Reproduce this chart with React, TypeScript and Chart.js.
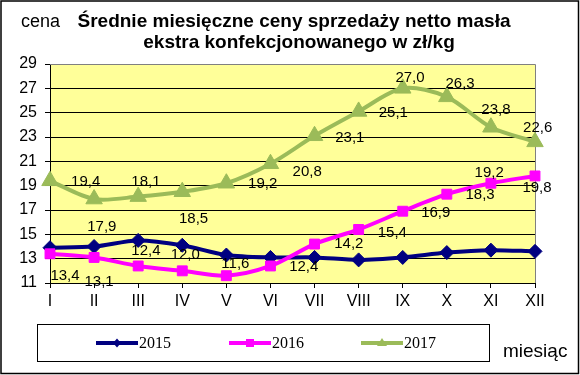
import React, { useEffect, useRef } from "react";
import { Chart, registerables } from "chart.js";

Chart.register(...registerables);

const months = ["I", "II", "III", "IV", "V", "VI", "VII", "VIII", "IX", "X", "XI", "XII"];
const yTickMin = 11;
const yTickMax = 29;
const yTickStep = 2;

const prices2015 = [13.9, 14.0, 14.5, 14.1, 13.3, 13.1, 13.1, 12.9, 13.1, 13.5, 13.7, 13.6];
const prices2016 = [13.4, 13.1, 12.4, 12.0, 11.6, 12.4, 14.2, 15.4, 16.9, 18.3, 19.2, 19.8];
const prices2017 = [19.4, 17.9, 18.1, 18.5, 19.2, 20.8, 23.1, 25.1, 27.0, 26.3, 23.8, 22.6];

const seriesNames = ["2015", "2016", "2017"];
const titleLines = ["Średnie miesięczne ceny sprzedaży netto masła", "ekstra konfekcjonowanego w zł/kg"];
const yAxisTitle = "cena";
const xAxisTitle = "miesiąc";

// label placement (pixel offsets from each point), as in the reference
const labelOffsets2016: [number, number][] = [
  [15, 22.5], [5, 24.8], [7.7, -14.7], [3, -16.3], [9, -11.9], [33.3, 1.3],
  [34.3, -0.2], [33.7, 2.9], [33, 1.7], [33.3, 0.5], [-1.7, -10.2], [2, 11.5],
];
const labelOffsets2017: [number, number][] = [
  [35.7, 0.6], [7.7, 27.9], [7.7, -15.2], [11.3, 27], [36.3, 0.8], [36.7, 7.7],
  [35.3, 1.7], [34.7, 1.1], [7.3, -10.1], [13.3, -12.6], [5, -17.4], [2.7, -13.7],
];

const COLORS = ["#000080", "#FF00FF", "#9BBB59"];
const STYLES = ["rectRot", "rect", "triangle"];
const RADII = [7, 7, 9.5];

const fmt = (v: number) => v.toFixed(1).replace(".", ",");

const decorPlugin = {
  id: "decor",
  beforeDraw(chart: any) {
    const { ctx, chartArea: a } = chart;
    ctx.save();
    ctx.fillStyle = "#ffffff";
    ctx.fillRect(0, 0, chart.width, chart.height);
    ctx.fillStyle = "#FFFF99";
    ctx.fillRect(a.left, a.top, a.right - a.left, a.bottom - a.top);
    ctx.restore();
  },
  beforeDatasetsDraw(chart: any) {
    const { ctx, chartArea: a } = chart;
    ctx.save();
    ctx.strokeStyle = "#808080";
    ctx.lineWidth = 1;
    ctx.beginPath();
    ctx.moveTo(a.left, a.top + 0.5);
    ctx.lineTo(a.right + 0.5, a.top + 0.5);
    ctx.lineTo(a.right + 0.5, a.bottom);
    ctx.stroke();
    ctx.restore();
  },
  afterDatasetsDraw(chart: any) {
    const { ctx } = chart;
    ctx.save();
    ctx.fillStyle = "#000";
    ctx.font = "15px Arial, 'Liberation Sans', sans-serif";
    ctx.textAlign = "center";
    ctx.textBaseline = "middle";
    const labelled: [number, number[], [number, number][]][] = [
      [1, prices2016, labelOffsets2016],
      [2, prices2017, labelOffsets2017],
    ];
    for (const [di, vals, offs] of labelled) {
      const meta = chart.getDatasetMeta(di);
      meta.data.forEach((pt: any, i: number) => {
        ctx.fillText(fmt(vals[i]), pt.x + offs[i][0], pt.y + offs[i][1]);
      });
    }
    ctx.restore();
  },
  afterDraw(chart: any) {
    const { ctx } = chart;
    ctx.save();
    ctx.fillStyle = "#000";
    // titles
    ctx.font = "bold 19px Arial, 'Liberation Sans', sans-serif";
    ctx.textAlign = "center";
    ctx.textBaseline = "alphabetic";
    ctx.fillText(titleLines[0], 294, 27);
    ctx.fillText(titleLines[1], 299, 48);
    ctx.font = "18px Arial, 'Liberation Sans', sans-serif";
    ctx.textAlign = "left";
    ctx.fillText(yAxisTitle, 21, 27);
    ctx.font = "19px Arial, 'Liberation Sans', sans-serif";
    ctx.fillText(xAxisTitle, 503, 357);

    // legend
    ctx.strokeStyle = "#000";
    ctx.lineWidth = 1;
    ctx.strokeRect(37.5, 324.5, 452, 37);
    const starts = [96, 229, 361];
    const ly = 343;
    seriesNames.forEach((name, i) => {
      const x0 = starts[i];
      ctx.strokeStyle = COLORS[i];
      ctx.lineWidth = 4;
      ctx.beginPath();
      ctx.moveTo(x0, ly);
      ctx.lineTo(x0 + 42, ly);
      ctx.stroke();
      ctx.fillStyle = COLORS[i];
      ctx.beginPath();
      const cx = x0 + 21;
      if (i === 0) {
        ctx.moveTo(cx - 4, ly);
        ctx.lineTo(cx, ly - 4.5);
        ctx.lineTo(cx + 4, ly);
        ctx.lineTo(cx, ly + 4.5);
      } else if (i === 1) {
        ctx.rect(cx - 4, ly - 4, 8, 8);
      } else {
        ctx.moveTo(cx, ly - 5);
        ctx.lineTo(cx + 5, ly + 3);
        ctx.lineTo(cx - 5, ly + 3);
      }
      ctx.closePath();
      ctx.fill();
      ctx.fillStyle = "#000";
      ctx.font = "16px 'Times New Roman', 'Liberation Serif', serif";
      ctx.textAlign = "left";
      ctx.textBaseline = "middle";
      ctx.fillText(name, x0 + 43, ly + 1);
    });

    // outer border
    ctx.strokeStyle = "#000";
    ctx.lineWidth = 1.5;
    ctx.strokeRect(1, 1, 577.5, 372.5);
    ctx.restore();
  },
};

export default function App() {
  const ref = useRef<HTMLCanvasElement | null>(null);
  useEffect(() => {
    if (!ref.current) return;
    const allSeries = [prices2015, prices2016, prices2017];
    const chart = new Chart(ref.current, {
      type: "line",
      data: {
        labels: months,
        datasets: allSeries.map((d, i) => ({
          label: seriesNames[i],
          data: d,
          borderColor: COLORS[i],
          backgroundColor: COLORS[i],
          borderWidth: 4,
          pointStyle: STYLES[i] as any,
          pointRadius: RADII[i],
          pointBorderWidth: 1,
          pointBackgroundColor: COLORS[i],
          pointBorderColor: COLORS[i],
          tension: 0.3,
          fill: false,
          clip: false as any,
          order: 3 - i,
        })),
      },
      options: {
        responsive: false,
        animation: false,
        devicePixelRatio: 1,
        layout: { padding: { left: 0, top: 64, right: 45, bottom: 62 } },
        plugins: {
          legend: { display: false },
          title: { display: false },
          tooltip: { enabled: false },
        },
        scales: {
          x: {
            type: "category",
            offset: false,
            grid: {
              drawOnChartArea: false,
              drawTicks: true,
              tickLength: 5,
              tickColor: "#000",
              color: "#000",
            },
            border: { color: "#000", width: 1 },
            ticks: {
              color: "#000",
              font: { family: "Arial, 'Liberation Sans', sans-serif", size: 16 },
              padding: 4,
              maxRotation: 0,
              autoSkip: false,
            },
            afterFit: (s: any) => {
              s.height = 30;
            },
          },
          y: {
            min: yTickMin,
            max: yTickMax,
            ticks: {
              stepSize: yTickStep,
              color: "#000",
              font: { family: "Arial, 'Liberation Sans', sans-serif", size: 16 },
              padding: 8,
            },
            grid: {
              color: (c: any) => (c.tick && c.tick.value === yTickMax ? "#808080" : "#000"),
              tickColor: "#000",
              tickLength: 5,
              lineWidth: 1,
            },
            border: { color: "#000", width: 1 },
            afterFit: (s: any) => {
              s.width = 50;
            },
          },
        },
      },
      plugins: [decorPlugin],
    });
    return () => chart.destroy();
  }, []);
  return (
    <div style={{ position: "absolute", left: 0, top: 0, width: 580, height: 375 }}>
      <canvas ref={ref} width={580} height={375} />
    </div>
  );
}
